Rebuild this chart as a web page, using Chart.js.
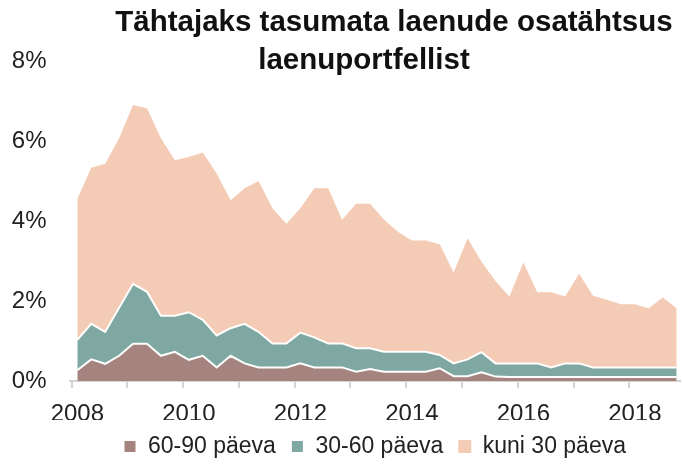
<!DOCTYPE html>
<html>
<head>
<meta charset="utf-8">
<script src="https://cdn.jsdelivr.net/npm/chart.js@4.4.1/dist/chart.umd.min.js"></script>
<style>
  html, body { margin:0; padding:0; background:#fff; }
  #wrap { position:relative; width:682px; height:465px; }
  .title {
    position:absolute; width:600px; text-align:center;
    font-family:"Liberation Sans", Arial, sans-serif;
    font-weight:bold; font-size:29.5px; line-height:38px; color:#111;
  }
  #title1 { left:94px; top:2px; }
  #title2 { left:64px; top:40px; }
</style>
</head>
<body>
<div id="wrap">
  <canvas id="chart" width="682" height="465"></canvas>
  <div class="title" id="title1">Tähtajaks tasumata laenude osatähtsus</div>
  <div class="title" id="title2">laenuportfellist</div>
</div>
<script>
// quarterly, 2008 Q1 .. 2018 Q4, values in % of loan portfolio
const QUARTERS = [];
['2008','2009','2010','2011','2012','2013','2014','2015','2016','2017','2018']
  .forEach(y => ['Q1','Q2','Q3','Q4'].forEach(q => QUARTERS.push(y + ' ' + q)));

const DAYS_60_90 = [
  0.27,0.54,0.43,0.63, 0.93,0.93,0.63,0.73, 0.53,0.63,0.34,0.63,
  0.44,0.34,0.34,0.34, 0.44,0.34,0.34,0.34, 0.23,0.30,0.23,0.23,
  0.23,0.23,0.32,0.12, 0.12,0.22,0.11,0.10, 0.10,0.10,0.10,0.10,
  0.10,0.10,0.10,0.10, 0.10,0.10,0.10,0.10
];
const DAYS_30_60 = [
  0.76,0.89,0.80,1.20, 1.50,1.30,1.00,0.90, 1.19,0.90,0.80,0.69,
  0.99,0.89,0.60,0.60, 0.77,0.75,0.60,0.60, 0.59,0.52,0.50,0.50,
  0.50,0.50,0.33,0.32, 0.42,0.50,0.33,0.34, 0.34,0.34,0.24,0.34,
  0.34,0.24,0.24,0.24, 0.24,0.24,0.24,0.24
];
const DAYS_UP_TO_30 = [
  3.52,3.90,4.20,4.24, 4.47,4.59,4.44,3.89, 3.88,4.18,4.05,3.20,
  3.39,3.77,3.38,2.99, 3.11,3.73,3.88,3.09, 3.61,3.61,3.31,3.00,
  2.78,2.78,2.77,2.27, 3.03,2.26,2.06,1.67, 2.52,1.78,1.88,1.67,
  2.24,1.79,1.69,1.58, 1.58,1.48,1.75,1.48
];

const SERIES_NAMES = ['60-90 päeva', '30-60 päeva', 'kuni 30 päeva'];
const SERIES_COLORS = ['#a5847f', '#7ea8a1', '#f4cbb4'];
const YEAR_TICKS = [2008,2009,2010,2011,2012,2013,2014,2015,2016,2017,2018];
const Y_TICKS = [0,2,4,6,8];

const FONT = '"Liberation Sans", Arial, sans-serif';
const INK = '#222';
const AXIS = '#d4d4d4';

// quarter label -> decimal year position on the linear x axis
function qx(label){
  const [y, q] = label.split(' ');
  return +y + (+q.slice(1) - 1) / 4;
}
function toPoints(vals){
  return vals.map((v, i) => ({x: qx(QUARTERS[i]), y: v}));
}

const datasets = [DAYS_60_90, DAYS_30_60, DAYS_UP_TO_30].map((vals, i) => ({
  label: SERIES_NAMES[i],
  data: toPoints(vals),
  backgroundColor: SERIES_COLORS[i],
  borderColor: i < 2 ? '#ffffff' : SERIES_COLORS[i],
  borderWidth: i < 2 ? 2 : 0,
  fill: i === 0 ? 'origin' : '-1',
  pointRadius: 0,
  tension: 0
}));

new Chart(document.getElementById('chart').getContext('2d'), {
  type: 'line',
  data: {datasets},
  options: {
    responsive: false,
    animation: false,
    layout: {padding: {left: 0, right: 2, top: 61, bottom: -3}},
    plugins: {
      legend: {
        position: 'bottom',
        fullSize: false,
        labels: {
          color: INK, font: {family: FONT, size: 23},
          boxWidth: 13, boxHeight: 13, padding: 15
        }
      },
      tooltip: {enabled: false}
    },
    scales: {
      x: {
        type: 'linear', min: 2007.86, max: 2018.81,
        afterBuildTicks: s => { s.ticks = YEAR_TICKS.map(y => ({value: y - 0.1})); },
        afterFit: s => { s.height = 39; },
        grid: {display: true, drawOnChartArea: false, drawTicks: true, tickLength: 7, color: AXIS, lineWidth: 2},
        border: {display: true, color: AXIS, width: 2},
        ticks: {
          autoSkip: false, maxRotation: 0, padding: 12, labelOffset: 5.6,
          color: INK, font: {family: FONT, size: 24},
          callback: v => { const y = Math.round(v + 0.1); return y % 2 === 0 ? String(y) : ''; }
        }
      },
      y: {
        stacked: true, min: 0, max: 8,
        afterBuildTicks: s => { s.ticks = Y_TICKS.map(v => ({value: v})); },
        afterFit: s => { s.width = 69.5; },
        grid: {display: false},
        border: {display: false},
        ticks: {
          padding: 15, color: INK, font: {family: FONT, size: 24},
          callback: v => v + '%'
        }
      }
    }
  }
});
</script>
</body>
</html>
